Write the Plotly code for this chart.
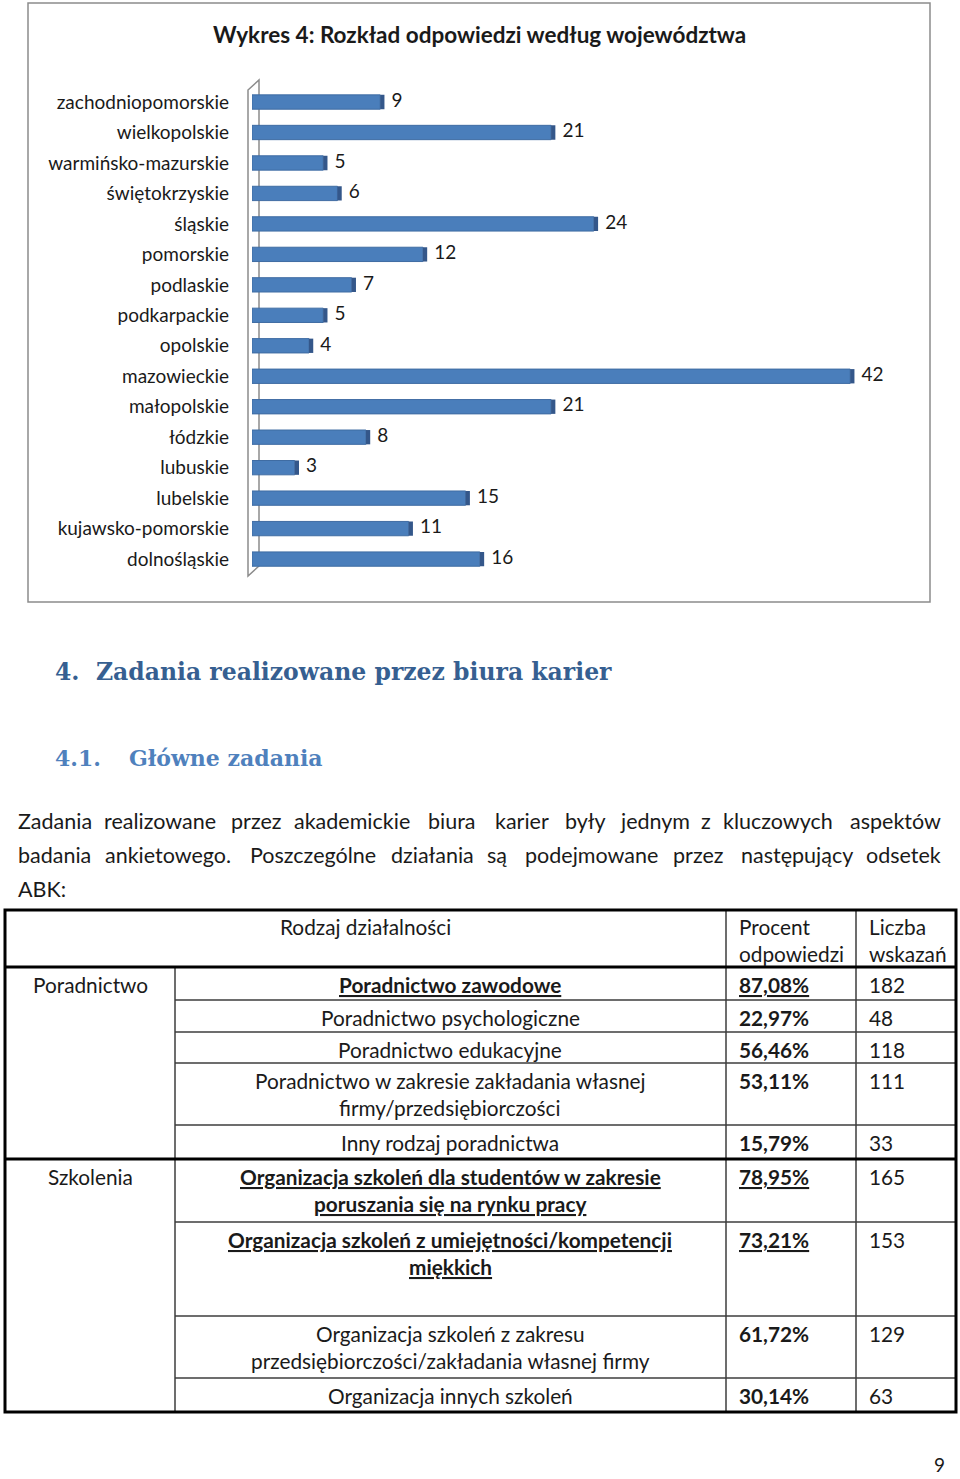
import plotly.graph_objects as go

W, H = 960, 1479

# ---------------- data ----------------
regions = ["zachodniopomorskie", "wielkopolskie", "warmińsko-mazurskie", "świętokrzyskie",
           "śląskie", "pomorskie", "podlaskie", "podkarpackie", "opolskie", "mazowieckie",
           "małopolskie", "łódzkie", "lubuskie", "lubelskie", "kujawsko-pomorskie", "dolnośląskie"]
responses = [9, 21, 5, 6, 24, 12, 7, 5, 4, 42, 21, 8, 3, 15, 11, 16]

chart_title = "Wykres 4: Rozkład odpowiedzi według województwa"

groups = ["Poradnictwo", "Szkolenia"]
row_group = [0, 0, 0, 0, 0, 1, 1, 1, 1]
activities = [
    ["Poradnictwo zawodowe"],
    ["Poradnictwo psychologiczne"],
    ["Poradnictwo edukacyjne"],
    ["Poradnictwo w zakresie zakładania własnej", "firmy/przedsiębiorczości"],
    ["Inny rodzaj poradnictwa"],
    ["Organizacja szkoleń dla studentów w zakresie", "poruszania się na rynku pracy"],
    ["Organizacja szkoleń z umiejętności/kompetencji", "miękkich"],
    ["Organizacja szkoleń z zakresu", "przedsiębiorczości/zakładania własnej firmy"],
    ["Organizacja innych szkoleń"],
]
percent_labels = ["87,08%", "22,97%", "56,46%", "53,11%", "15,79%", "78,95%", "73,21%", "61,72%", "30,14%"]
mention_counts = [182, 48, 118, 111, 33, 165, 153, 129, 63]
highlighted = [True, False, False, False, False, True, True, False, False]

paragraph_lines = [
    "Zadania realizowane przez akademickie biura karier były jednym z kluczowych aspektów",
    "badania ankietowego. Poszczególne działania są podejmowane przez następujący odsetek",
    "ABK:",
]

# ---------------- helpers ----------------
def X(px):
    return px / W

def Y(py):
    return 1 - py / H

SANS = "Lato"
SERIF = "DejaVu Serif"
TXT = "#1a1a1a"

annotations = []
shapes = []

def text(px, py, s, size=20.8, xanchor="left", color=TXT, family=SANS, yanchor="middle"):
    annotations.append(dict(x=X(px), y=Y(py), xref="paper", yref="paper", text=s,
                            showarrow=False, xanchor=xanchor, yanchor=yanchor,
                            font=dict(family=family, size=size, color=color)))

def line(x0, y0, x1, y1, w=1.5, color="#3c3c3c"):
    shapes.append(dict(type="line", xref="paper", yref="paper",
                       x0=X(x0), y0=Y(y0), x1=X(x1), y1=Y(y1),
                       line=dict(color=color, width=w)))

# ---------------- chart ----------------
fig = go.Figure()
fig.add_trace(go.Bar(y=regions, x=responses, orientation="h", width=0.47,
                     marker=dict(color="#4A7EBB", line=dict(color="#3F6CA3", width=1)),
                     hoverinfo="x+y"))
fig.add_trace(go.Bar(y=regions, x=[0.3] * len(responses), base=responses, orientation="h",
                     width=0.47, marker=dict(color="#34578A", line=dict(width=0)),
                     hoverinfo="skip"))
fig.add_trace(go.Scatter(y=regions, x=[v + 0.8 for v in responses], mode="text",
                         text=[str(v) for v in responses], textposition="middle right",
                         textfont=dict(family=SANS, size=19, color=TXT), hoverinfo="skip"))

# chart frame
shapes.append(dict(type="rect", xref="paper", yref="paper", x0=X(28), y0=Y(602), x1=X(930), y1=Y(3),
                   line=dict(color="#8c8c8c", width=1.5), fillcolor="rgba(0,0,0,0)"))
# 3D wall
shapes.append(dict(type="path", xref="paper", yref="paper",
                   path=f"M {X(248)},{Y(90)} L {X(259)},{Y(80)} L {X(259)},{Y(566)} L {X(248)},{Y(576)} Z",
                   line=dict(color="#8c8c8c", width=1.5), fillcolor="rgba(0,0,0,0)", layer="below"))

text(479, 35, "<b>" + chart_title + "</b>", size=22.5, xanchor="center")

# ---------------- headings / paragraph ----------------
text(53, 672, "<b>4.  Zadania realizowane przez biura karier</b>", size=23.5, color="#365F91", family=SERIF)
text(53, 758, "<b>4.1.</b>", size=22, color="#4F81BD", family=SERIF)
text(127, 758, "<b>Główne zadania</b>", size=22, color="#4F81BD", family=SERIF)

# justified paragraph: first word left-aligned, last word right-aligned, others centred
word_cx = [
    [16, 160, 256, 352, 452, 522, 585, 655, 706, 778, 943],
    [16, 168, 313, 432, 497, 591, 698, 797, 943],
    [16],
]
for i, s in enumerate(paragraph_lines):
    words = s.split(" ")
    for j, (w, wx) in enumerate(zip(words, word_cx[i])):
        if j == 0:
            anchor = "left"
        elif j == len(words) - 1:
            anchor = "right"
        else:
            anchor = "center"
        text(wx, 821 + 34 * i, w, size=21.5, xanchor=anchor)

# ---------------- table ----------------
tx0, tx1 = 5, 956
c1, c2, c3 = 175, 726, 856
top, head_bot = 910, 967
row_bounds = [967, 1000, 1032, 1063, 1125, 1159, 1222, 1316, 1378, 1412]
group_break = 1159

# header
text(365, 926, "Rodzaj działalności", xanchor="center")
text(737, 926, "Procent")
text(737, 953, "odpowiedzi")
text(867, 926, "Liczba")
text(867, 953, "wskazań")

# thin lines
for b in row_bounds[1:-1]:
    if b != group_break:
        line(c1, b, tx1, b)
line(c1, head_bot, c1, row_bounds[-1])
line(c2, top, c2, row_bounds[-1])
line(c3, top, c3, row_bounds[-1])
# thick lines
line(tx0, head_bot, tx1, head_bot, w=3, color="#000000")
line(tx0, group_break, tx1, group_break, w=3, color="#000000")
shapes.append(dict(type="rect", xref="paper", yref="paper", x0=X(tx0), y0=Y(row_bounds[-1]),
                   x1=X(tx1), y1=Y(top), line=dict(color="#000000", width=3),
                   fillcolor="rgba(0,0,0,0)"))

group_done = set()
for i, lines_ in enumerate(activities):
    rt = row_bounds[i]
    g = row_group[i]
    if g not in group_done:
        text(90, rt + 17, groups[g], xanchor="center")
        group_done.add(g)
    for k, s in enumerate(lines_):
        lab = f"<b><u>{s}</u></b>" if highlighted[i] else s
        text(450, rt + 17 + 27 * k, lab, xanchor="center")
    pl = f"<b><u>{percent_labels[i]}</u></b>" if highlighted[i] else f"<b>{percent_labels[i]}</b>"
    text(737, rt + 17, pl)
    text(867, rt + 17, str(mention_counts[i]))

text(939, 1478, "9", size=19, xanchor="center", yanchor="bottom")

# ---------------- layout ----------------
n = len(regions)
fig.update_layout(
    width=W, height=H, margin=dict(l=0, r=0, t=0, b=0),
    paper_bgcolor="white", plot_bgcolor="rgba(0,0,0,0)",
    barmode="overlay", showlegend=False,
    xaxis=dict(domain=[X(252), X(910)], range=[0, 46.2], visible=False, fixedrange=True),
    yaxis=dict(domain=[Y(574.3), Y(86.8)], type="category", range=[n - 0.5, -0.5],
               showgrid=False, showline=False, ticks="", ticklabelstandoff=22,
               tickfont=dict(family=SANS, size=19, color=TXT), fixedrange=True),
    annotations=annotations, shapes=shapes,
)

fig.write_html("out.html", config={"displayModeBar": False},
               post_script="document.body.style.margin='0px';")
